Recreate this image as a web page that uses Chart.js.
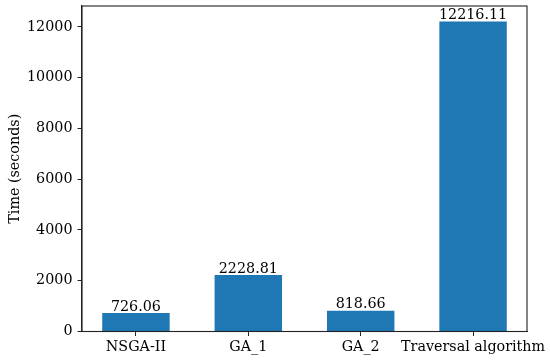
<!DOCTYPE html>
<html>
<head>
<meta charset="utf-8">
<script src="https://cdn.jsdelivr.net/npm/chart.js@4/dist/chart.umd.min.js"></script>
<style>
  html, body { margin: 0; padding: 0; background: #fff; }
  #wrap { width: 550px; height: 363px; position: relative; }
</style>
</head>
<body>
<div id="wrap"><canvas id="c"></canvas></div>
<script>
const categories = ["NSGA-II", "GA_1", "GA_2", "Traversal algorithm"];
const times = [726.06, 2228.81, 818.66, 12216.11];
const yTicks = [0, 2000, 4000, 6000, 8000, 10000, 12000];
const yTitle = "Time (seconds)";

const FONT = "'DejaVu Serif', serif";
const FS = 14.3;
const yMax = Math.max(...times) * 1.05;

const valueLabels = {
  id: 'valueLabels',
  afterDatasetsDraw(chart) {
    const ctx = chart.ctx;
    const meta = chart.getDatasetMeta(0);
    ctx.save();
    ctx.font = FS + "px " + FONT;
    ctx.fillStyle = "#000";
    ctx.textAlign = "center";
    ctx.textBaseline = "bottom";
    meta.data.forEach((bar, i) => {
      ctx.fillText(times[i].toFixed(2), bar.x, bar.y + 1);
    });
    ctx.restore();
  }
};

const frame = {
  id: 'frame',
  afterDraw(chart) {
    const a = chart.chartArea;
    const ctx = chart.ctx;
    ctx.save();
    ctx.strokeStyle = "#222";
    ctx.lineWidth = 1.1;
    ctx.strokeRect(a.left, a.top, a.right - a.left, a.bottom - a.top);
    ctx.restore();
  }
};

new Chart(document.getElementById('c'), {
  type: 'bar',
  data: {
    datasets: [{
      data: times.map((v, i) => ({ x: i, y: v })),
      backgroundColor: '#1f77b4',
      borderWidth: 0,
      categoryPercentage: 1.0,
      barPercentage: 0.6
    }]
  },
  options: {
    responsive: true,
    maintainAspectRatio: false,
    animation: false,
    layout: { padding: { left: 0, right: 23, top: 6, bottom: 0 } },
    plugins: { legend: { display: false }, tooltip: { enabled: false } },
    scales: {
      x: {
        type: 'linear',
        offset: false,
        min: -0.48,
        max: 3.48,
        afterBuildTicks(scale) { scale.ticks = categories.map((c, i) => ({ value: i })); },
        afterFit(scale) { scale.height = 31.5; scale.paddingLeft = 0; scale.paddingRight = 0; },
        ticks: {
          callback: (v) => categories[v] ?? '',
          font: { family: FONT, size: FS },
          color: '#000',
          padding: 3,
          maxRotation: 0,
          autoSkip: false
        },
        grid: { offset: false, drawOnChartArea: false, drawTicks: true, tickLength: 4.5, tickColor: '#222', lineWidth: 1 },
        border: { display: true, color: '#222', width: 1.1 }
      },
      y: {
        min: 0,
        max: yMax,
        afterBuildTicks(scale) { scale.ticks = yTicks.map(v => ({ value: v })); },
        afterFit(scale) { scale.width = 82; scale.paddingTop = 0; scale.paddingBottom = 0; },
        ticks: {
          font: { family: FONT, size: FS },
          color: '#000',
          padding: 5,
          callback: (v) => String(v)
        },
        title: {
          display: true,
          text: yTitle,
          font: { family: FONT, size: FS },
          color: '#000',
          padding: { top: 6.4, bottom: 0 }
        },
        grid: { drawOnChartArea: false, drawTicks: true, tickLength: 4.5, tickColor: '#222', lineWidth: 1 },
        border: { display: true, color: '#222', width: 1.1 }
      }
    }
  },
  plugins: [valueLabels, frame]
});
</script>
</body>
</html>
